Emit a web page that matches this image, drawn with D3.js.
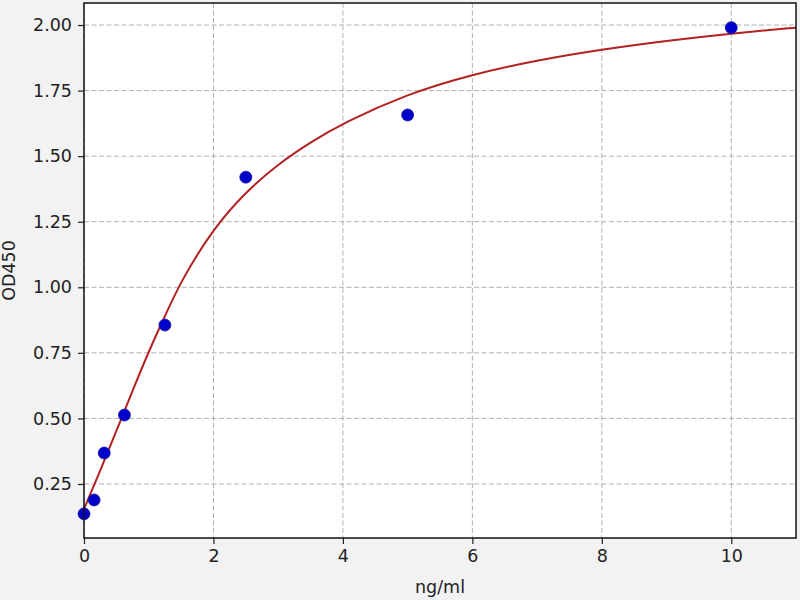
<!DOCTYPE html>
<html>
<head>
<script src="https://cdn.jsdelivr.net/npm/d3@7"></script>
<style>
  body { margin: 0; background: #f2f2f2; }
  text { font-family: "DejaVu Sans", sans-serif; fill: #222; }
</style>
</head>
<body>
<div id="plot"></div>
<script>
// standard points
var stdConc = [0, 0.156, 0.3125, 0.625, 1.25, 2.5, 5, 10];
var stdOD = [0.136, 0.189, 0.368, 0.513, 0.856, 1.42, 1.657, 1.99];

// fitted curve
var fitConc = [0, 0.25, 0.5, 0.75, 1, 1.25, 1.5, 2, 2.5, 3, 3.5, 4, 5, 6, 7, 8, 9, 10, 11];
var fitOD = [0.155, 0.3, 0.452, 0.605, 0.756, 0.89, 1.025, 1.225, 1.364, 1.47, 1.553, 1.626, 1.738, 1.812, 1.866, 1.907, 1.94, 1.968, 1.99];

var xTicks = [0, 2, 4, 6, 8, 10];
var yTicks = [0.25, 0.5, 0.75, 1.0, 1.25, 1.5, 1.75, 2.0];

var width = 800, height = 600;
var margin = { left: 84, top: 3, right: 4, bottom: 62 };
var w = width - margin.left - margin.right;
var h = height - margin.top - margin.bottom;

var svg = d3.select("#plot").append("svg")
    .attr("width", width)
    .attr("height", height);

var g = svg.append("g")
    .attr("transform", "translate(" + margin.left + "," + margin.top + ")");

var x = d3.scaleLinear().domain([0, 11]).range([0, w]);
var y = d3.scaleLinear().domain([0.044, 2.084]).range([h, 0]);

g.append("rect")
    .attr("width", w).attr("height", h)
    .attr("fill", "#fff");

// grid
g.append("g").selectAll("line")
    .data(xTicks).enter().append("line")
    .attr("x1", function (d) { return x(d); })
    .attr("x2", function (d) { return x(d); })
    .attr("y1", 0).attr("y2", h)
    .attr("stroke", "#b0b0b0").attr("stroke-width", 1)
    .attr("stroke-dasharray", "5,2.5");
g.append("g").selectAll("line")
    .data(yTicks).enter().append("line")
    .attr("y1", function (d) { return y(d); })
    .attr("y2", function (d) { return y(d); })
    .attr("x1", 0).attr("x2", w)
    .attr("stroke", "#b0b0b0").attr("stroke-width", 1)
    .attr("stroke-dasharray", "5,2.5");

// axes
var xAxis = g.append("g")
    .attr("transform", "translate(0," + h + ")")
    .call(d3.axisBottom(x).tickValues(xTicks).tickSize(6).tickPadding(6).tickFormat(d3.format("d")));
var yAxis = g.append("g")
    .call(d3.axisLeft(y).tickValues(yTicks).tickSize(6).tickPadding(6).tickFormat(d3.format(".2f")));
[xAxis, yAxis].forEach(function (a) {
    a.select(".domain").remove();
    a.selectAll("line").attr("stroke", "#222").attr("stroke-width", 1.2);
    a.selectAll("text").attr("font-size", "17.5px").attr("font-family", "DejaVu Sans").attr("fill", "#222");
});

// curve (smoothed through the read points)
var line = d3.line()
    .x(function (d, i) { return x(fitConc[i]); })
    .y(function (d) { return y(d); })
    .curve(d3.curveBasis);
g.append("path")
    .datum(fitOD)
    .attr("d", line)
    .attr("fill", "none")
    .attr("stroke", "#b22222")
    .attr("stroke-width", 2);

// points
g.selectAll("circle")
    .data(stdOD).enter().append("circle")
    .attr("cx", function (d, i) { return x(stdConc[i]); })
    .attr("cy", function (d) { return y(d); })
    .attr("r", 6)
    .attr("fill", "#0000cc")
    .attr("stroke", "#1a1a9a")
    .attr("stroke-width", 0.8);

// frame
g.append("rect")
    .attr("width", w).attr("height", h)
    .attr("fill", "none")
    .attr("stroke", "#111").attr("stroke-width", 1.5);

// labels
svg.append("text")
    .attr("x", margin.left + w / 2)
    .attr("y", 593)
    .attr("text-anchor", "middle")
    .attr("font-size", "17.5px")
    .text("ng/ml");
svg.append("text")
    .attr("transform", "translate(15," + (margin.top + h / 2) + ") rotate(-90)")
    .attr("text-anchor", "middle")
    .attr("font-size", "17.5px")
    .text("OD450");
</script>
</body>
</html>
